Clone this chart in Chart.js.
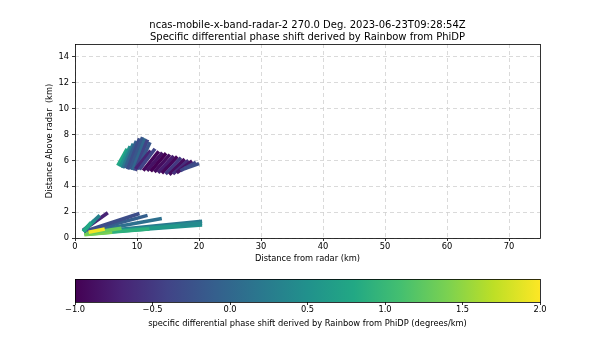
<!DOCTYPE html>
<html>
<head>
<meta charset="utf-8">
<script src="https://cdn.jsdelivr.net/npm/chart.js@4.4.1/dist/chart.umd.min.js"></script>
<style>
  html,body{margin:0;padding:0;background:#fff;}
  #wrap{position:relative;width:600px;height:360px;}
  canvas{position:absolute;left:0;}
</style>
</head>
<body>
<div id="wrap">
  <canvas id="main" width="600" height="270" style="top:0"></canvas>
  <canvas id="cbar" width="600" height="90" style="top:270px"></canvas>
</div>
<script>
// ---------------- DATA ----------------
const titleLines = ["ncas-mobile-x-band-radar-2 270.0 Deg. 2023-06-23T09:28:54Z",
                    "Specific differential phase shift derived by Rainbow from PhiDP"];
const xTickValues = [0, 10, 20, 30, 40, 50, 60, 70];
const yTickValues = [0, 2, 4, 6, 8, 10, 12, 14];
const cbarTickValues = [-1.0, -0.5, 0.0, 0.5, 1.0, 1.5, 2.0];

// Each strip: start (x0,y0) -> end (x1,y1) in km, with its Kdp value (deg/km).
// Listed back-to-front (later entries are drawn on top).
const stripX0 = [
  // upper echo, steep strips
  6.9, 7.3, 7.7, 8.1, 8.5, 8.9, 9.3, 9.7, 10.1,
  // upper echo, shallow strips
  9.8, 10.4, 11.0, 11.6, 12.2, 12.8, 13.4, 14.0, 14.6, 15.2, 15.8, 16.4, 17.0, 17.6,
  // low-level fan
  1.5, 1.6, 1.7, 1.7, 1.6, 1.5, 1.5, 1.3, 1.3, 1.4, 1.3, 1.8, 1.5, 1.8, 2.2];
const stripY0 = [
  5.6, 5.5, 5.4, 5.4, 5.3, 5.3, 5.25, 5.2, 5.3,
  5.35, 5.3, 5.2, 5.2, 5.15, 5.1, 5.05, 5.0, 4.95, 4.9, 4.95, 5.05, 5.2, 5.35,
  0.33, 0.4, 0.38, 0.36, 0.42, 0.45, 0.5, 0.6, 0.55, 0.5, 0.5, 0.3, 0.25, 0.35, 0.45];
const stripX1 = [
  8.4, 8.9, 9.4, 9.9, 10.4, 10.9, 11.3, 11.7, 12.1,
  12.2, 12.9, 13.5, 14.1, 14.7, 15.3, 15.9, 16.5, 17.1, 17.7, 18.3, 18.9, 19.5, 20.0,
  20.5, 20.5, 20.5, 17.0, 14.0, 11.7, 10.4, 5.3, 4.0, 3.2, 2.6, 12.0, 6.0, 7.5, 4.8];
const stripY1 = [
  6.9, 7.1, 7.3, 7.5, 7.7, 7.8, 7.7, 7.6, 7.4,
  6.75, 6.9, 6.7, 6.6, 6.55, 6.45, 6.35, 6.3, 6.2, 6.1, 6.0, 5.95, 5.85, 5.75,
  1.0, 1.3, 1.15, 0.95, 1.5, 1.75, 1.9, 1.95, 1.75, 1.4, 1.2, 0.7, 0.45, 0.75, 0.7];
const stripKdp = [
  0.8, 0.5, 0.2, -0.1, -0.3, -0.2, 0.0, -0.4, -0.2,
  -0.7, -0.4, -0.95, -0.85, -1.0, -0.9, -0.75, -0.95, -0.5, -0.9, -0.6, -0.85, -0.4, -0.3,
  0.5, 0.2, 0.4, 0.6, 0.1, -0.1, -0.3, -0.7, 0.3, 0.5, 0.8, 0.9, 1.4, 1.3, 1.95];

const cbMin = -1.0, cbMax = 2.0;

// ---------------- colormap (viridis) ----------------
const viridisStops = ["#440154","#482475","#414487","#355f8d","#2a788e","#21918c",
                      "#22a884","#44bf70","#7ad151","#bddf26","#fde725"];
function hexToRgb(h){return [parseInt(h.substr(1,2),16),parseInt(h.substr(3,2),16),parseInt(h.substr(5,2),16)];}
function viridis(t){
  t = Math.max(0, Math.min(1, t));
  const n = viridisStops.length - 1;
  const i = Math.min(n - 1, Math.floor(t * n));
  const f = t * n - i;
  const a = hexToRgb(viridisStops[i]), b = hexToRgb(viridisStops[i+1]);
  const c = a.map((v,k)=>Math.round(v + (b[k]-v)*f));
  return `rgb(${c[0]},${c[1]},${c[2]})`;
}
function kdpColor(v){ return viridis((v - cbMin)/(cbMax - cbMin)); }

const FONT = "'DejaVu Sans', 'Liberation Sans', sans-serif";
const SMALL = 8.3;
const minusFmt = (v, d) => (v < 0 ? "\u2212" : "") + Math.abs(v).toFixed(d);

const frame = {
  id: 'frame',
  afterDatasetsDraw(chart){
    const {ctx, chartArea:a} = chart;
    ctx.save();
    ctx.strokeStyle = '#000';
    ctx.lineWidth = 0.8;
    ctx.strokeRect(Math.round(a.left)+0.5, Math.round(a.top)+0.5,
                   Math.round(a.right-a.left), Math.round(a.bottom-a.top));
    ctx.restore();
  }
};

// ---------------- main chart ----------------
const datasets = stripKdp.map((v, i) => ({
  type: 'line',
  order: stripKdp.length - i,
  data: [{x: stripX0[i], y: stripY0[i]}, {x: stripX1[i], y: stripY1[i]}],
  borderColor: kdpColor(v),
  borderWidth: 3.6,
  borderCapStyle: 'butt',
  pointRadius: 0,
  fill: false,
  tension: 0
}));

new Chart(document.getElementById('main'), {
  type: 'scatter',
  data: { datasets },
  plugins: [frame],
  options: {
    responsive: false,
    animation: false,
    devicePixelRatio: 1,
    layout: { padding: { left: 45, right: 60, top: 0, bottom: 6 } },
    plugins: {
      legend: { display: false },
      tooltip: { enabled: false },
      title: {
        display: true,
        text: titleLines,
        fullSize: false,
        color: '#000',
        font: { family: FONT, size: 10, weight: 'normal', lineHeight: 1.2 },
        padding: { top: 19, bottom: 1 }
      }
    },
    scales: {
      x: {
        type: 'linear', min: 0, max: 75,
        afterBuildTicks: s => { s.ticks = xTickValues.map(v => ({value: v})); },
        afterFit: s => { s.height = 26; },
        ticks: { color: '#000', font: { family: FONT, size: SMALL }, padding: 1,
                 callback: v => String(v), maxRotation: 0 },
        grid: { color: '#d0d0d0', lineWidth: 0.8, drawTicks: true, tickLength: 3,
                tickColor: '#000', tickWidth: 0.8 },
        border: { display: false, dash: [4, 3] },
        title: { display: true, text: 'Distance from radar (km)', color: '#000',
                 font: { family: FONT, size: SMALL }, padding: 0 }
      },
      y: {
        type: 'linear', min: 0, max: 15,
        afterBuildTicks: s => { s.ticks = yTickValues.map(v => ({value: v})); },
        afterFit: s => { s.width = 30; },
        ticks: { color: '#000', font: { family: FONT, size: SMALL }, padding: 3,
                 callback: v => String(v) },
        grid: { color: '#d0d0d0', lineWidth: 0.8, drawTicks: true, tickLength: 3,
                tickColor: '#000', tickWidth: 0.8 },
        border: { display: false, dash: [4, 3] },
        title: { display: true, text: 'Distance Above radar  (km)', color: '#000',
                 font: { family: FONT, size: SMALL }, padding: 0 }
      }
    }
  }
});

// ---------------- colorbar ----------------
new Chart(document.getElementById('cbar'), {
  type: 'bar',
  data: {
    labels: ['kdp'],
    datasets: [{
      data: [[cbMin, cbMax]],
      borderWidth: 0,
      barPercentage: 1,
      categoryPercentage: 1,
      backgroundColor: (c) => {
        const ch = c.chart, xs = ch.scales.x;
        if (!xs || !ch.chartArea) return '#21918c';
        const g = ch.ctx.createLinearGradient(xs.getPixelForValue(cbMin), 0, xs.getPixelForValue(cbMax), 0);
        viridisStops.forEach((col, i) => g.addColorStop(i / (viridisStops.length - 1), col));
        return g;
      }
    }]
  },
  plugins: [frame],
  options: {
    indexAxis: 'y',
    responsive: false,
    animation: false,
    devicePixelRatio: 1,
    layout: { padding: { left: 75, right: 60, top: 9, bottom: 31 } },
    plugins: { legend: { display: false }, tooltip: { enabled: false } },
    scales: {
      x: {
        type: 'linear', min: cbMin, max: cbMax,
        afterBuildTicks: s => { s.ticks = cbarTickValues.map(v => ({value: v})); },
        afterFit: s => { s.height = 27; },
        ticks: { color: '#000', font: { family: FONT, size: SMALL }, padding: 0,
                 callback: v => minusFmt(v, 1), maxRotation: 0 },
        grid: { display: true, drawOnChartArea: false, drawTicks: true, tickLength: 3,
                tickColor: '#000', tickWidth: 0.8 },
        border: { display: false },
        title: { display: true,
                 text: 'specific differential phase shift derived by Rainbow from PhiDP (degrees/km)',
                 color: '#000', font: { family: FONT, size: SMALL }, padding: 0 }
      },
      y: { display: false }
    }
  }
});
</script>
</body>
</html>
